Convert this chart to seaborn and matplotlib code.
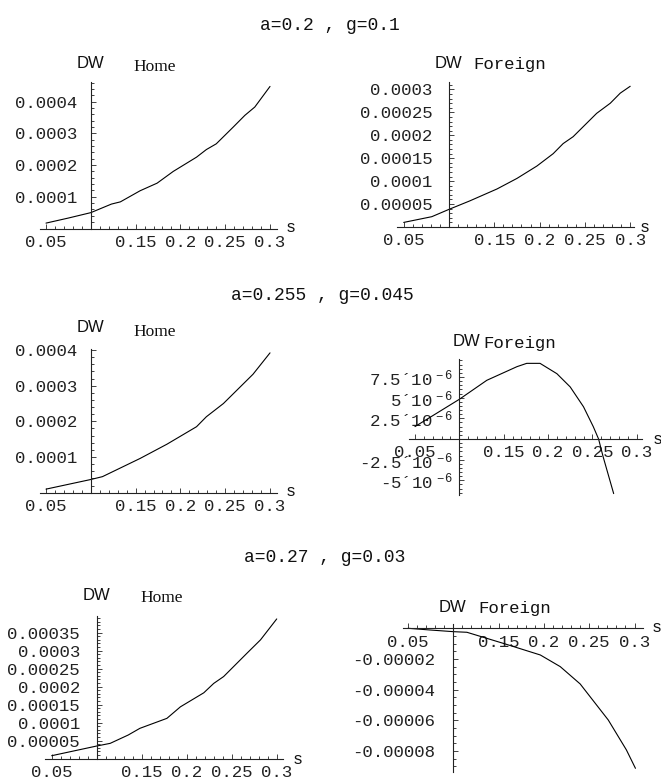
import matplotlib
matplotlib.use('Agg')
import matplotlib.pyplot as plt
import seaborn as sns
from matplotlib.ticker import FixedLocator, FixedFormatter, MultipleLocator

# welfare change DW against s
s_home_1 = [0.05, 0.075, 0.1, 0.123, 0.133, 0.155, 0.174, 0.192, 0.218, 0.229, 0.24, 0.259, 0.272, 0.283, 0.3]
dw_home_1 = [1.7e-5, 3.3e-5, 5.0e-5, 7.7e-5, 8.4e-5, 1.19e-4, 1.43e-4, 1.8e-4, 2.25e-4, 2.49e-4, 2.67e-4,
             3.2e-4, 3.57e-4, 3.83e-4, 4.48e-4]

s_foreign_1 = [0.05, 0.081, 0.1, 0.123, 0.153, 0.175, 0.197, 0.215, 0.226, 0.237, 0.263, 0.278, 0.289, 0.3]
dw_foreign_1 = [1.0e-5, 2.25e-5, 3.85e-5, 5.7e-5, 8.3e-5, 1.06e-4, 1.33e-4, 1.6e-4, 1.82e-4, 1.97e-4,
                2.48e-4, 2.7e-4, 2.92e-4, 3.07e-4]

s_home_2 = [0.05, 0.1, 0.113, 0.155, 0.185, 0.218, 0.229, 0.248, 0.281, 0.3]
dw_home_2 = [1.0e-5, 3.7e-5, 4.5e-5, 9.6e-5, 1.36e-4, 1.85e-4, 2.13e-4, 2.5e-4, 3.32e-4, 3.92e-4]

s_foreign_2 = [0.05, 0.1, 0.131, 0.165, 0.176, 0.191, 0.21, 0.225, 0.24, 0.251, 0.257, 0.262, 0.274]
dw_foreign_2 = [1.5e-6, 4.8e-6, 7.1e-6, 8.75e-6, 9.15e-6, 9.15e-6, 7.9e-6, 6.3e-6, 3.9e-6, 1.5e-6, 0.0,
                -2.1e-6, -6.6e-6]

s_home_3 = [0.05, 0.1, 0.115, 0.135, 0.148, 0.178, 0.193, 0.219, 0.23, 0.241, 0.267, 0.282, 0.3]
dw_home_3 = [0.83e-5, 3.52e-5, 4.26e-5, 6.57e-5, 8.43e-5, 1.12e-4, 1.44e-4, 1.83e-4, 2.09e-4, 2.28e-4,
             2.93e-4, 3.3e-4, 3.88e-4]

s_foreign_3 = [0.05, 0.074, 0.1, 0.115, 0.155, 0.196, 0.218, 0.24, 0.271, 0.291, 0.301]
dw_foreign_3 = [0.0, -1.1e-6, -2.2e-6, -2.6e-6, -9.8e-6, -1.74e-5, -2.5e-5, -3.63e-5, -5.98e-5, -7.93e-5,
                -9.13e-5]

row_titles = ["a=0.2 , g=0.1", "a=0.255 , g=0.045", "a=0.27 , g=0.03"]

x_ticks = [0.05, 0.15, 0.2, 0.25, 0.3]
x_labels = ["0.05", "0.15", "0.2", "0.25", "0.3"]

yt_home_1 = [0.0001, 0.0002, 0.0003, 0.0004]
yl_home_1 = ["0.0001", "0.0002", "0.0003", "0.0004"]
yt_foreign_1 = [0.00005, 0.0001, 0.00015, 0.0002, 0.00025, 0.0003]
yl_foreign_1 = ["0.00005", "0.0001", "0.00015", "0.0002", "0.00025", "0.0003"]
yt_home_2 = yt_home_1
yl_home_2 = yl_home_1
yt_foreign_2 = [-5e-6, -2.5e-6, 2.5e-6, 5e-6, 7.5e-6]
yl_foreign_2 = ["-5´$10^{\\ -6}$", "-2.5´$10^{\\ -6}$", "2.5´$10^{\\ -6}$", "5´$10^{\\ -6}$",
                "7.5´$10^{\\ -6}$"]
yt_home_3 = [0.00005, 0.0001, 0.00015, 0.0002, 0.00025, 0.0003, 0.00035]
yl_home_3 = ["0.00005", "0.0001", "0.00015", "0.0002", "0.00025", "0.0003", "0.00035"]
yt_foreign_3 = [-0.00008, -0.00006, -0.00004, -0.00002]
yl_foreign_3 = ["-0.00008", "-0.00006", "-0.00004", "-0.00002"]

W, H = 661, 783

sns.set_theme(style="white")
plt.rcParams['font.family'] = ['Liberation Mono', 'DejaVu Sans Mono']
plt.rcParams['mathtext.fontset'] = 'custom'
plt.rcParams['mathtext.rm'] = 'Liberation Mono'
plt.rcParams['mathtext.it'] = 'Liberation Mono'

fig = plt.figure(figsize=(W / 100, H / 100), dpi=100, facecolor='white')

# (s, dw, yticks, ylabels, minor step, name, box px (l, r, t, b), xlim, ylim, ypad)
panels = [
    (s_home_1, dw_home_1, yt_home_1, yl_home_1, 2e-5, "Home",
     (40, 277, 82, 228.5), (0.0433, 0.3078), (0, 4.62e-4), 9.4),
    (s_foreign_1, dw_foreign_1, yt_foreign_1, yl_foreign_1, 1e-5, "Foreign",
     (397, 634, 81.7, 227), (0.0426, 0.3042), (0, 3.17e-4), 12),
    (s_home_2, dw_home_2, yt_home_2, yl_home_2, 2e-5, "Home",
     (40, 277, 349.3, 492.7), (0.0433, 0.3078), (0, 4.02e-4), 9.4),
    (s_foreign_2, dw_foreign_2, yt_foreign_2, yl_foreign_2, 5e-7, "Foreign",
     (409, 641.7, 359.3, 495), (0.0433, 0.3056), (-6.77e-6, 9.64e-6), 4.3),
    (s_home_3, dw_home_3, yt_home_3, yl_home_3, 1e-5, "Home",
     (45, 283.3, 615.7, 758.7), (0.0426, 0.3073), (0, 3.97e-4), 12),
    (s_foreign_3, dw_foreign_3, yt_foreign_3, yl_foreign_3, 5e-6, "Foreign",
     (403.3, 642.7, 624.3, 772.3), (0.0448, 0.309), (-9.39e-5, 2.6e-6), 13),
]

# label positions in px: DW label, name label, s label
label_pos = [
    ((90, 63), (155, 67), (291, 228)),
    ((448, 63), (510, 65), (645, 227)),
    ((90, 327), (155, 332), (291, 492)),
    ((467, 342), (520, 343), (658, 439)),
    ((97, 596), (162, 598), (298, 759)),
    ((453, 607), (515, 608), (657, 628)),
]
title_pos = [(330, 25), (322, 295), (325, 558)]

for (s, dw, yt, yl, ystep, name, box, xlim, ylim, ypad), (p_dw, p_name, p_s) in zip(panels, label_pos):
    l, r, t, b = box
    ax = fig.add_axes([l / W, 1 - b / H, (r - l) / W, (b - t) / H])
    ax.patch.set_alpha(0)
    sns.lineplot(x=s, y=dw, ax=ax, color='black', linewidth=0.8)
    ax.set_xlim(*xlim)
    ax.set_ylim(*ylim)
    ax.set_xlabel('')
    ax.set_ylabel('')
    for side in ['top', 'right']:
        ax.spines[side].set_visible(False)
    ax.spines['left'].set_position(('data', 0.1))
    ax.spines['bottom'].set_position(('data', 0))
    for side in ['left', 'bottom']:
        ax.spines[side].set_color('#222222')
        ax.spines[side].set_linewidth(0.8)
    ax.xaxis.set_major_locator(FixedLocator(x_ticks))
    ax.xaxis.set_major_formatter(FixedFormatter(x_labels))
    ax.xaxis.set_minor_locator(MultipleLocator(0.01))
    ax.yaxis.set_major_locator(FixedLocator(yt))
    ax.yaxis.set_major_formatter(FixedFormatter(yl))
    ax.yaxis.set_minor_locator(MultipleLocator(ystep))
    ax.tick_params(which='both', direction='in', color='#222222', width=0.6, labelsize=12.5,
                   labelcolor='#222222', bottom=True, left=True)
    ax.tick_params(which='major', length=3.5)
    ax.tick_params(which='minor', length=2)
    ax.tick_params(axis='x', which='major', pad=4.5)
    ax.tick_params(axis='y', which='major', pad=ypad)

    fig.text(p_dw[0] / W, 1 - p_dw[1] / H, "DW", family='Liberation Sans', fontsize=12,
             ha='center', va='center', color='#111111')
    fig.text(p_name[0] / W, 1 - p_name[1] / H, name,
             family='Liberation Serif' if name == "Home" else 'Liberation Mono',
             fontsize=12.5, ha='center', va='center', color='#111111')
    fig.text(p_s[0] / W, 1 - p_s[1] / H, "s", family='Liberation Sans', fontsize=12,
             ha='center', va='center', color='#111111')

for title, (tx, ty) in zip(row_titles, title_pos):
    fig.text(tx / W, 1 - ty / H, title, fontsize=13, ha='center', va='center', color='#111111')

fig.savefig('out.png', dpi=100, facecolor='white')
plt.close(fig)
